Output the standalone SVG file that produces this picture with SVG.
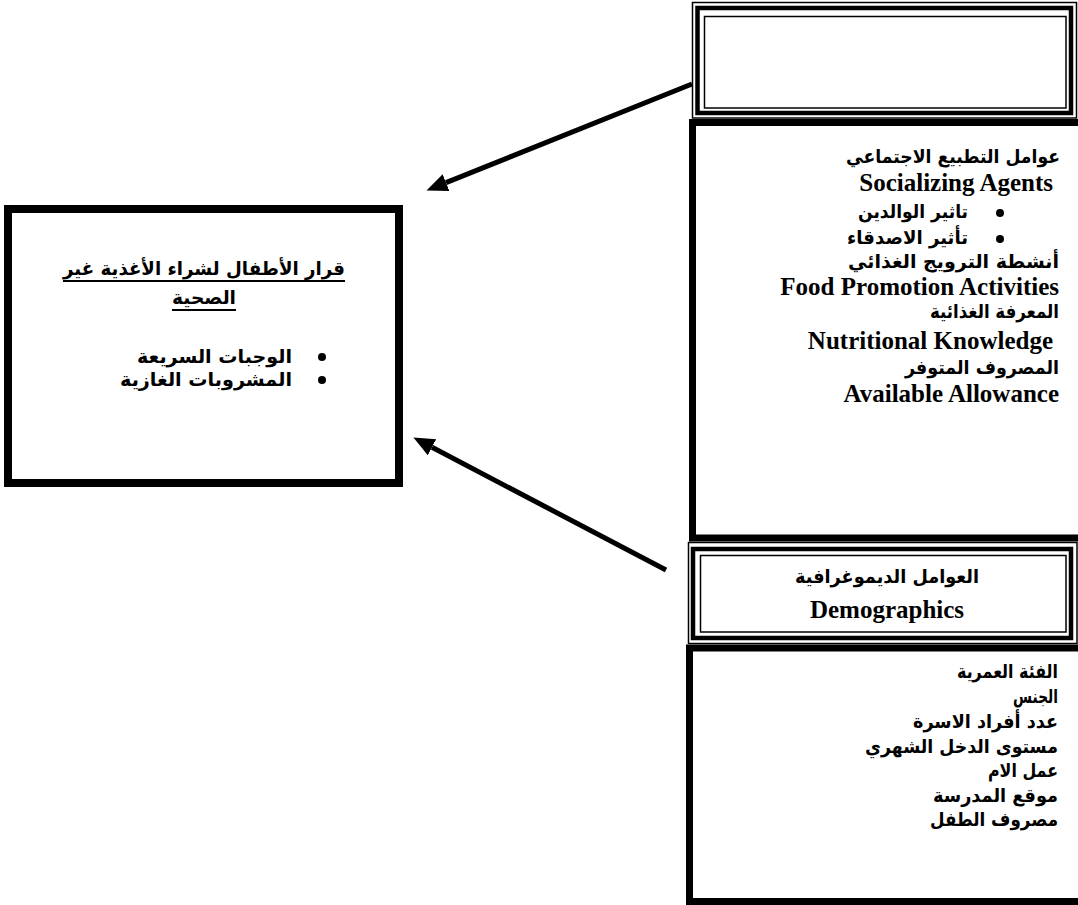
<svg xmlns="http://www.w3.org/2000/svg" width="1078" height="905" viewBox="0 0 1078 905">
<style>
.ar{font-family:"DejaVu Sans","Noto Sans",sans-serif;font-weight:700;font-size:19px;fill:#000}
.en{font-family:"Liberation Serif","Times New Roman",serif;font-weight:700;font-size:25px;fill:#000}
.thin{fill:none;stroke:#000;stroke-width:1.5}
.mid{fill:none;stroke:#000;stroke-width:4.5}
.heavy{fill:none;stroke:#000;stroke-width:7}
.conn{stroke:#000;stroke-width:5;fill:none}
</style>
<defs>
<marker id="ah" markerUnits="userSpaceOnUse" markerWidth="24" markerHeight="20" refX="0" refY="9" orient="auto">
<path d="M0,0 L21,9 L0,18 z" fill="#000"/>
</marker>
</defs>
<rect width="1078" height="905" fill="#fff"/>

<g id="connectors">
<line class="conn" x1="692" y1="84" x2="446" y2="182.6" marker-end="url(#ah)"/>
<line class="conn" x1="666" y1="570" x2="432" y2="447.3" marker-end="url(#ah)"/>
</g>

<g id="top-box">
<rect class="thin" x="692.5" y="2.5" width="384" height="115.5"/>
<rect class="mid" x="697.5" y="8" width="373.5" height="105"/>
<rect class="thin" x="704.5" y="16.5" width="361.5" height="91.5"/>
</g>

<g id="socializing-box">
<rect class="heavy" x="692.5" y="122.5" width="400" height="415.5"/>
<text class="ar" x="1060" y="163" text-anchor="end" textLength="214" lengthAdjust="spacingAndGlyphs">عوامل التطبيع الاجتماعي</text>
<text class="en" x="1053" y="191" text-anchor="end">Socializing Agents</text>
<circle cx="1000" cy="213" r="4"/>
<text class="ar" x="968" y="218" text-anchor="end" textLength="110" lengthAdjust="spacingAndGlyphs">تاثير الوالدين</text>
<circle cx="1000" cy="239" r="4"/>
<text class="ar" x="968" y="244" text-anchor="end" textLength="121" lengthAdjust="spacingAndGlyphs">تأثير الاصدقاء</text>
<text class="ar" x="1059" y="268" text-anchor="end" textLength="211" lengthAdjust="spacingAndGlyphs">أنشطة الترويج الغذائي</text>
<text class="en" x="1059" y="295" text-anchor="end">Food Promotion Activities</text>
<text class="ar" x="1059" y="318" text-anchor="end" textLength="129" lengthAdjust="spacingAndGlyphs">المعرفة الغذائية</text>
<text class="en" x="1053" y="349" text-anchor="end">Nutritional Knowledge</text>
<text class="ar" x="1059" y="374" text-anchor="end" textLength="154" lengthAdjust="spacingAndGlyphs">المصروف المتوفر</text>
<text class="en" x="1059" y="402" text-anchor="end">Available Allowance</text>
</g>

<g id="demographics-box">
<rect class="thin" x="688.5" y="542.5" width="388.5" height="101"/>
<rect class="mid" x="693" y="549" width="378" height="89"/>
<rect class="thin" x="700.5" y="555.5" width="365.5" height="76.5"/>
<text class="ar" x="887" y="583" text-anchor="middle" textLength="184" lengthAdjust="spacingAndGlyphs">العوامل الديموغرافية</text>
<text class="en" x="887" y="618" text-anchor="middle">Demographics</text>
</g>

<g id="demographic-list-box">
<rect class="heavy" x="689.5" y="648" width="400" height="253.5"/>
<text class="ar" x="1058" y="678" text-anchor="end" textLength="101" lengthAdjust="spacingAndGlyphs">الفئة العمرية</text>
<text class="ar" x="1058" y="703" text-anchor="end" textLength="45" lengthAdjust="spacingAndGlyphs">الجنس</text>
<text class="ar" x="1058" y="728" text-anchor="end" textLength="145" lengthAdjust="spacingAndGlyphs">عدد أفراد الاسرة</text>
<text class="ar" x="1058" y="753" text-anchor="end" textLength="193" lengthAdjust="spacingAndGlyphs">مستوى الدخل الشهري</text>
<text class="ar" x="1058" y="777" text-anchor="end" textLength="70" lengthAdjust="spacingAndGlyphs">عمل الام</text>
<text class="ar" x="1058" y="802" text-anchor="end" textLength="125" lengthAdjust="spacingAndGlyphs">موقع المدرسة</text>
<text class="ar" x="1058" y="826" text-anchor="end" textLength="128" lengthAdjust="spacingAndGlyphs">مصروف الطفل</text>
</g>

<g id="decision-box">
<rect x="8" y="209" width="391" height="274" fill="none" stroke="#000" stroke-width="8"/>
<text class="ar" x="345" y="275" text-anchor="end" textLength="282" lengthAdjust="spacingAndGlyphs">قرار  الأطفال  لشراء الأغذية غير</text>
<line x1="63" y1="281" x2="345" y2="281" stroke="#000" stroke-width="2"/>
<text class="ar" x="204" y="304" text-anchor="middle" textLength="64" lengthAdjust="spacingAndGlyphs">الصحية</text>
<line x1="172" y1="310" x2="236" y2="310" stroke="#000" stroke-width="2"/>
<circle cx="322" cy="357" r="4"/>
<text class="ar" x="292" y="363" text-anchor="end" textLength="155" lengthAdjust="spacingAndGlyphs">الوجبات السريعة</text>
<circle cx="322" cy="380" r="4"/>
<text class="ar" x="292" y="386" text-anchor="end" textLength="172" lengthAdjust="spacingAndGlyphs">المشروبات الغازية</text>
</g>
</svg>
